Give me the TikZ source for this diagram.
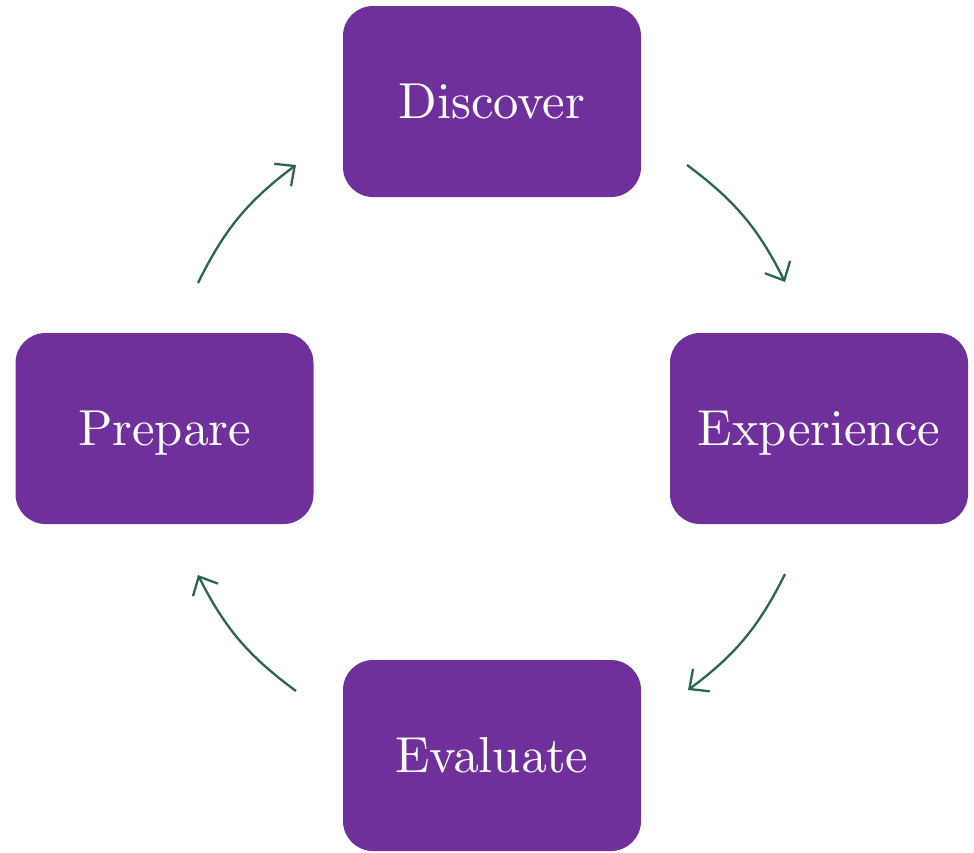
\documentclass[tikz,border=0pt]{standalone}
\usetikzlibrary{arrows.meta}
\definecolor{boxpurple}{HTML}{70309B}
\definecolor{arrowgreen}{HTML}{2B6452}
% 10pt design size scaled up, for the stage labels
\font\stagerm=cmr10 at 25.3pt
\begin{document}
\begin{tikzpicture}[x=0.5pt,y=-0.5pt,
  stage/.style={rectangle, rounded corners=15pt, fill=boxpurple, text=white,
    minimum width=149pt, minimum height=95.5pt, inner sep=0pt, font=\stagerm,
    text height=17.3pt, text depth=0pt},
  flow/.style={draw=arrowgreen, line width=1.15pt,
    -{Straight Barb[length=7.5pt,width=14pt,line width=1.15pt]}}]
\useasboundingbox (0,0) rectangle (974,852);
\node[stage] (disc) at (492,101.5) {Discover};
\node[stage] (expe) at (819,428.5) {Experience};
\node[stage] (eval) at (492,755.5) {Evaluate};
\node[stage] (prep) at (164.5,428.5) {Prepare};
\coordinate (a1s) at (687,165);
\coordinate (a1e) at (785,282);
\coordinate (a2s) at (785,574);
\coordinate (a2e) at (688,690);
\coordinate (a3s) at (296,691);
\coordinate (a3e) at (198,575);
\coordinate (a4s) at (198,283);
\coordinate (a4e) at (296,165);
\draw[flow] (a1s) to[bend left=13.5] (a1e);
\draw[flow] (a2s) to[bend left=13.5] (a2e);
\draw[flow] (a3s) to[bend left=13.5] (a3e);
\draw[flow] (a4s) to[bend left=13.5] (a4e);
\end{tikzpicture}
\end{document}
